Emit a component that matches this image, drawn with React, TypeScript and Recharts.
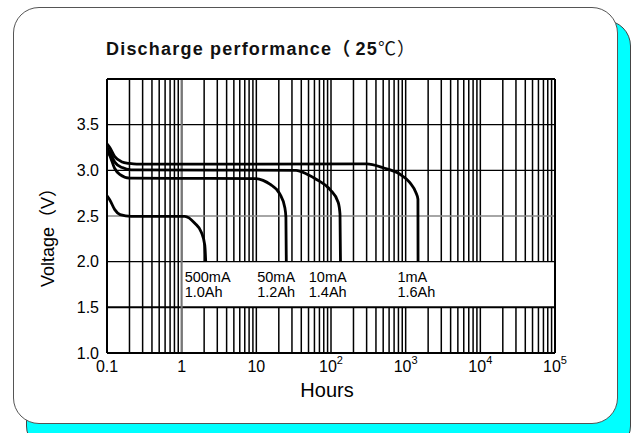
import React from "react";
import {
  LineChart,
  Line,
  XAxis,
  YAxis,
  CartesianGrid,
  ReferenceLine,
  ReferenceArea,
  ReferenceDot,
} from "recharts";

const FONT = "'Liberation Sans', Arial, 'Noto Sans CJK SC', sans-serif";

// x axis: decades (labels) and the 1..9 minor grid inside each decade
const decades = [0.1, 1, 10, 100, 1000, 10000, 100000];
const decadeBase = ["0.1", "1", "10", "10", "10", "10", "10"];
const decadeExp = ["", "", "", "2", "3", "4", "5"];
const mantissas = [1, 2, 3, 4, 5, 6, 7, 8, 9];
const gridHours = decades
  .slice(0, -1)
  .flatMap((d) => mantissas.map((m) => +(d * m).toPrecision(3)))
  .concat([100000]);

const voltTicks = [1.0, 1.5, 2.0, 2.5, 3.0, 3.5];
const voltLines = [1.5, 2.0, 2.5, 3.0, 3.5];

// discharge curves (hours, volts)
const h1mA = [0.1, 0.109, 0.127, 0.156, 0.2, 0.25, 300, 500, 840, 1140, 1370, 1460, 1465];
const v1mA = [3.29, 3.25, 3.15, 3.095, 3.075, 3.068, 3.07, 3.028, 2.957, 2.865, 2.757, 2.684, 2.0];

const h10mA = [0.1, 0.109, 0.127, 0.16, 0.21, 34, 47, 64, 97, 125, 132, 134];
const v10mA = [3.25, 3.2, 3.09, 3.03, 3.005, 3.0, 2.96, 2.9, 2.79, 2.648, 2.52, 2.0];

const h50mA = [0.1, 0.109, 0.127, 0.148, 0.2, 10, 12.3, 15.2, 20.7, 24.1, 24.9, 25.2];
const v50mA = [3.22, 3.16, 3.02, 2.955, 2.915, 2.91, 2.89, 2.848, 2.739, 2.59, 2.485, 2.0];

const h500mA = [0.1, 0.11, 0.127, 0.15, 0.21, 1.1, 1.5, 1.84, 2.04, 2.1];
const v500mA = [2.72, 2.67, 2.57, 2.515, 2.496, 2.496, 2.42, 2.32, 2.18, 2.0];

const labelCurrent = ["500mA", "50mA", "10mA", "1mA"];
const labelCapacity = ["1.0Ah", "1.2Ah", "1.4Ah", "1.6Ah"];
const labelHours = [1.13, 10.6, 52, 800];
const labelVolt = 1.83;

const toPoints = (h: number[], v: number[]) => h.map((x, i) => ({ h: x, v: v[i] }));

const curves = [
  toPoints(h1mA, v1mA),
  toPoints(h10mA, v10mA),
  toPoints(h50mA, v50mA),
  toPoints(h500mA, v500mA),
];

function HourTick(props: any) {
  const { x, y, payload } = props;
  const i = decades.indexOf(payload.value);
  if (i < 0) return null;
  return (
    <text x={x} y={y + 11} textAnchor="middle" fontSize={16} fill="#000" fontFamily={FONT}>
      {decadeBase[i]}
      {decadeExp[i] && (
        <tspan fontSize={11} dy={-8}>
          {decadeExp[i]}
        </tspan>
      )}
    </text>
  );
}

function AnnoLabel(props: any) {
  const { viewBox, top, bottom } = props;
  const x = viewBox.x;
  const y = viewBox.y + viewBox.height / 2;
  return (
    <text x={x} y={y + 5} fontSize={14.5} fill="#000" fontFamily={FONT}>
      <tspan x={x}>{top}</tspan>
      <tspan x={x} dy={15}>
        {bottom}
      </tspan>
    </text>
  );
}

export default function App() {
  return (
    <div
      style={{
        position: "absolute",
        left: 0,
        top: 0,
        width: 636,
        height: 433,
        overflow: "hidden",
        background: "#fff",
        fontFamily: FONT,
      }}
    >
      {/* card + cyan shadow */}
      <div
        style={{
          position: "absolute",
          left: 26,
          top: 20,
          width: 603,
          height: 430,
          background: "#00ffff",
          border: "1px solid #444",
          borderRadius: 26,
        }}
      />
      <div
        style={{
          position: "absolute",
          left: 13,
          top: 7,
          width: 603,
          height: 415,
          background: "#fff",
          border: "1px solid #555",
          borderRadius: 26,
        }}
      />

      <div style={{ position: "absolute", left: 0, top: 0 }}>
        <LineChart width={636} height={433} margin={{ top: 79, right: 81, bottom: 50, left: 67 }}>
          <CartesianGrid horizontal={false} stroke="#000" strokeWidth={1.5} />
          <XAxis
            dataKey="h"
            type="number"
            scale="log"
            domain={[0.1, 100000]}
            ticks={gridHours}
            interval={0}
            allowDataOverflow
            tick={<HourTick />}
            tickLine={false}
            axisLine={{ stroke: "#000", strokeWidth: 2 }}
            height={30}
          />
          <YAxis
            type="number"
            domain={[1, 4]}
            ticks={voltTicks}
            interval={0}
            tickFormatter={(v: number) => v.toFixed(1)}
            tick={{ fontSize: 16, fill: "#000", fontFamily: FONT }}
            tickLine={false}
            axisLine={{ stroke: "#000", strokeWidth: 2 }}
            width={40}
          />
          <ReferenceArea x1={1} x2={100000} y1={1.5} y2={2.0} fill="#fff" fillOpacity={1} stroke="none" />
          {voltLines.map((v) => (
            <ReferenceLine
              key={v}
              y={v}
              stroke={v === 2.5 ? "#888" : "#000"}
              strokeWidth={v === 1.5 ? 2 : 1.4}
            />
          ))}
          <ReferenceLine x={1} stroke="#777" strokeWidth={2} />
          <ReferenceLine y={4} stroke="#000" strokeWidth={2} />
          <ReferenceLine x={100000} stroke="#000" strokeWidth={2} />
          {curves.map((d, i) => (
            <Line
              key={i}
              data={d}
              dataKey="v"
              type="monotone"
              stroke="#000"
              strokeWidth={2.8}
              dot={false}
              isAnimationActive={false}
            />
          ))}
          {labelCurrent.map((c, i) => (
            <ReferenceDot
              key={c}
              x={labelHours[i]}
              y={labelVolt}
              r={1}
              fill="none"
              stroke="none"
              label={<AnnoLabel top={c} bottom={labelCapacity[i]} />}
            />
          ))}
        </LineChart>
      </div>

      <svg
        width={636}
        height={433}
        style={{ position: "absolute", left: 0, top: 0, pointerEvents: "none" }}
      >
        <text x={106} y={55} fontSize={18} fontWeight="bold" letterSpacing={1.2} fill="#111" fontFamily={FONT}>
          Discharge performance（<tspan dx={4}>25</tspan>
          <tspan fontWeight="normal">℃）</tspan>
        </text>
        <text
          x={48}
          y={233}
          transform="rotate(-90 48 233)"
          textAnchor="middle"
          dominantBaseline="central"
          fontSize={18}
          fill="#000"
          fontFamily={FONT}
        >
          Voltage（V）
        </text>
        <text x={327} y={397} textAnchor="middle" fontSize={20} fill="#000" fontFamily={FONT}>
          Hours
        </text>
      </svg>
    </div>
  );
}
